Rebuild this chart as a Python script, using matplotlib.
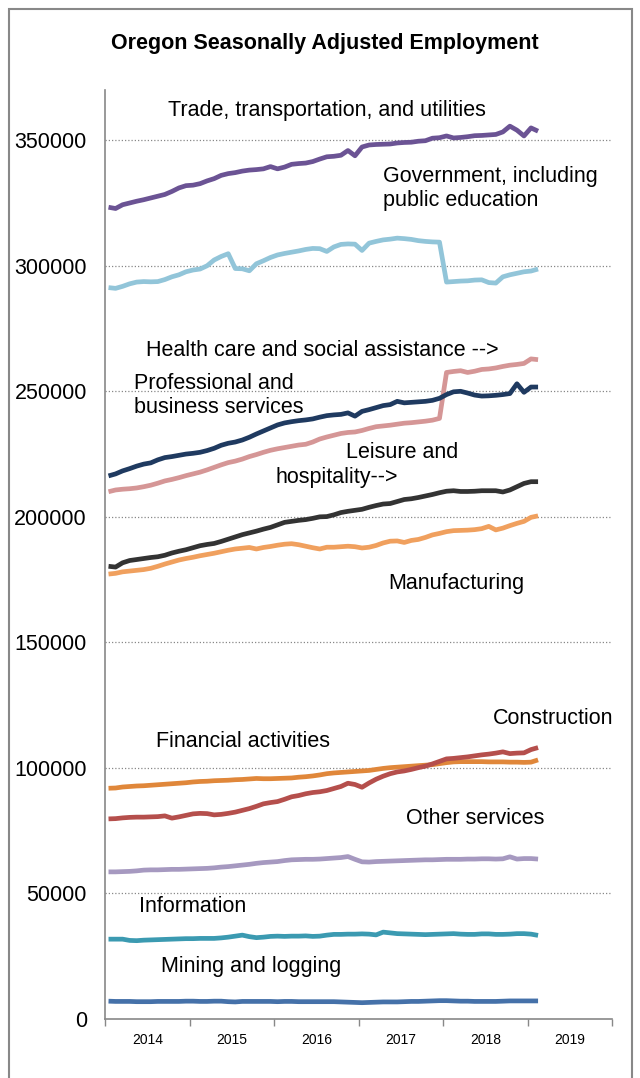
import numpy as np
import matplotlib.pyplot as plt
from matplotlib.patches import Rectangle

plt.rcParams['font.family'] = ['Liberation Sans', 'DejaVu Sans']

# ── Data: monthly, Jan 2014 - Feb 2019 ───────────────────────
months = np.arange(62)

trade = [323300, 322800, 324300, 325000, 325700, 326300, 327000, 327700, 328400, 329600,
         331000, 331900, 332100, 332700, 333800, 334700, 336000, 336700, 337100, 337700,
         338100, 338300, 338600, 339500, 338600, 339300, 340400, 340700, 340900, 341500,
         342500, 343400, 343600, 344000, 345900, 343800, 347300, 348100, 348300, 348400,
         348500, 348900, 349100, 349200, 349600, 349800, 350800, 351000, 351700, 350900,
         351100, 351400, 351800, 351900, 352100, 352300, 353300, 355600, 354000, 351700,
         354900, 353600]

government = [291300, 291000, 291800, 292800, 293500, 293700, 293600, 293700, 294500, 295600,
              296400, 297600, 298300, 298700, 300000, 302300, 303700, 304800, 298900, 298800,
              298000, 300800, 302000, 303300, 304300, 304900, 305400, 305900, 306500, 306900,
              306800, 305700, 307500, 308500, 308700, 308600, 306100, 309000, 309700, 310300,
              310600, 311000, 310800, 310500, 310000, 309700, 309500, 309400, 293500, 293700,
              293900, 294000, 294300, 294400, 293300, 293100, 295600, 296400, 297000, 297600,
              297900, 298700]

health = [210000, 210700, 211000, 211200, 211500, 212000, 212600, 213400, 214300, 214900,
          215600, 216400, 217100, 217800, 218700, 219700, 220700, 221600, 222200, 223000,
          224000, 224800, 225700, 226500, 227100, 227600, 228100, 228600, 228900, 229800,
          231000, 231800, 232500, 233200, 233600, 233800, 234400, 235200, 235900, 236200,
          236500, 236900, 237300, 237500, 237800, 238100, 238500, 239200, 257500, 257900,
          258200, 257500, 258000, 258700, 258900, 259300, 259900, 260400, 260700, 261100,
          262900, 262600]

professional = [216300, 217100, 218300, 219200, 220200, 221000, 221500, 222700, 223600, 224000,
                224500, 225000, 225300, 225700, 226400, 227300, 228500, 229300, 229800, 230600,
                231700, 233000, 234200, 235400, 236600, 237400, 237900, 238300, 238600, 239000,
                239700, 240300, 240600, 240800, 241400, 240100, 242000, 242700, 243500, 244300,
                244700, 246000, 245400, 245600, 245800, 246000, 246400, 247200, 248700, 249800,
                250000, 249300, 248500, 248100, 248200, 248400, 248700, 249100, 253000, 249600,
                251700, 251700]

leisure = [180300, 180000, 181700, 182600, 183000, 183400, 183800, 184100, 184700, 185600,
           186300, 186900, 187700, 188500, 189000, 189400, 190200, 191100, 192000, 192900,
           193600, 194300, 195100, 195800, 196800, 197800, 198200, 198600, 198900, 199400,
           200000, 200100, 200800, 201700, 202200, 202600, 203000, 203800, 204500, 205100,
           205300, 206100, 206900, 207200, 207700, 208300, 208900, 209600, 210200, 210400,
           210100, 210100, 210200, 210400, 210400, 210400, 209900, 210700, 212000, 213300,
           214000, 214000]

manufacturing = [177200, 177500, 178100, 178400, 178700, 179000, 179500, 180300, 181200, 182000,
                 182800, 183400, 183900, 184500, 185000, 185500, 186100, 186700, 187200, 187500,
                 187800, 187200, 187800, 188200, 188700, 189100, 189300, 188900, 188300, 187700,
                 187200, 187900, 187900, 188100, 188300, 188100, 187600, 187900, 188600, 189600,
                 190300, 190400, 189800, 190600, 191000, 191800, 192800, 193400, 194100, 194500,
                 194600, 194700, 194900, 195300, 196200, 194800, 195500, 196500, 197400, 198200,
                 199800, 200400]

financial = [91900, 92000, 92400, 92600, 92800, 92900, 93100, 93300, 93500, 93700,
             93900, 94100, 94400, 94600, 94700, 94900, 95000, 95100, 95300, 95400,
             95600, 95800, 95700, 95700, 95800, 95900, 96000, 96300, 96500, 96800,
             97200, 97700, 98000, 98200, 98400, 98600, 98800, 99000, 99400, 99800,
             100100, 100300, 100500, 100700, 100900, 101100, 101300, 101700, 102100, 102400,
             102500, 102500, 102500, 102500, 102400, 102400, 102400, 102300, 102300, 102200,
             102300, 103200]

construction = [79700, 79800, 80100, 80300, 80400, 80400, 80500, 80600, 80900, 80000,
                80500, 81100, 81700, 81900, 81800, 81300, 81500, 81900, 82400, 83100,
                83800, 84700, 85700, 86200, 86600, 87500, 88500, 89000, 89700, 90200,
                90500, 91000, 91800, 92600, 93900, 93400, 92300, 94000, 95500, 96700,
                97700, 98400, 98800, 99400, 100100, 100700, 101600, 102600, 103600, 103800,
                104100, 104400, 104800, 105200, 105500, 105900, 106400, 105700, 105900, 106000,
                107300, 108100]

other = [58600, 58600, 58700, 58800, 59000, 59300, 59400, 59400, 59500, 59600,
         59600, 59700, 59800, 59900, 60000, 60200, 60500, 60700, 61000, 61300,
         61600, 62000, 62300, 62500, 62700, 63100, 63400, 63500, 63600, 63600,
         63700, 63900, 64100, 64300, 64700, 63600, 62600, 62500, 62700, 62800,
         62900, 63000, 63100, 63200, 63300, 63400, 63400, 63500, 63600, 63600,
         63600, 63700, 63700, 63800, 63800, 63700, 63800, 64600, 63700, 63900,
         63900, 63700]

information = [31800, 31800, 31800, 31300, 31200, 31400, 31500, 31600, 31700, 31800,
               31900, 32000, 32000, 32100, 32100, 32100, 32300, 32600, 33000, 33400,
               32800, 32400, 32600, 32900, 33000, 32900, 33000, 33000, 33100, 32900,
               33000, 33400, 33700, 33700, 33800, 33800, 33900, 33800, 33500, 34600,
               34300, 34000, 33900, 33800, 33700, 33600, 33700, 33800, 33900, 34000,
               33800, 33700, 33700, 33900, 33900, 33700, 33700, 33800, 34000, 34000,
               33800, 33300]

mining = [7100, 7000, 7000, 7000, 6900, 6900, 6900, 7000, 7000, 7000,
          7000, 7100, 7100, 7000, 7000, 7100, 7100, 6900, 6800, 7000,
          7000, 7000, 7000, 7000, 6900, 7000, 7000, 6900, 6900, 6900,
          6900, 6900, 6900, 6800, 6700, 6600, 6500, 6600, 6700, 6800,
          6800, 6800, 6900, 7000, 7000, 7100, 7200, 7300, 7300, 7200,
          7100, 7100, 7000, 7000, 7000, 7000, 7100, 7200, 7200, 7200,
          7200, 7200]

years = [2014, 2015, 2016, 2017, 2018, 2019]

series = [
    (trade, '#6b5394'),
    (government, '#92c5d9'),
    (health, '#d59696'),
    (professional, '#1f3a60'),
    (leisure, '#333333'),
    (manufacturing, '#f0a05e'),
    (financial, '#e0873a'),
    (construction, '#b54f4c'),
    (other, '#a699c0'),
    (information, '#3b9ab1'),
    (mining, '#4571a9'),
]

# labels: (text, x in years, y value)
labels = [
    ('Trade, transportation, and utilities', 2014.746, 361900),
    ('Government, including\npublic education', 2017.29, 330800),
    ('Health care and social assistance -->', 2014.485, 266300),
    ('Professional and\nbusiness services', 2014.343, 248200),
    ('Leisure and', 2016.852, 225700),
    ('hospitality-->', 2016.012, 215800),
    ('Manufacturing', 2017.349, 173600),
    ('Construction', 2018.592, 119800),
    ('Financial activities', 2014.604, 110700),
    ('Other services', 2017.562, 80000),
    ('Information', 2014.402, 45000),
    ('Mining and logging', 2014.663, 21100),
]

# ── Figure ───────────────────────────────────────────────────
fig = plt.figure(figsize=(6.4, 10.78), dpi=100)
ax = fig.add_axes([105/640, 1 - 1019/1078, (612 - 105)/640, (1019 - 90)/1078])

x = 2014 + (months + 0.5) / 12
for vals, col in series:
    ax.plot(x, vals, color=col, lw=3.4, solid_capstyle='butt', solid_joinstyle='round')

for txt, tx, ty in labels:
    ax.text(tx, ty, txt, ha='left', va='center', fontsize=15.5, linespacing=1.18)

ax.set_xlim(2014, 2020)
ax.set_ylim(0, 370000)
ax.set_yticks(np.arange(0, 350001, 50000))
ax.set_yticklabels([str(v) for v in range(0, 350001, 50000)], fontsize=15.5)
ax.tick_params(axis='y', length=0, pad=13)

ax.set_xticks(np.arange(2014, 2021))
ax.set_xticklabels([])
ax.set_xticks([y + 0.5 for y in years], minor=True)
ax.set_xticklabels([str(y) for y in years], minor=True, fontsize=10)
ax.tick_params(axis='x', which='major', direction='out', length=5, color='#888888', width=1)
ax.tick_params(axis='x', which='minor', length=0, pad=10)

for yv in range(50000, 350001, 50000):
    ax.axhline(yv, color='#888888', lw=0.9, ls=(0, (1, 1.6)), zorder=0)

for s in ['top', 'right']:
    ax.spines[s].set_visible(False)
for s in ['left', 'bottom']:
    ax.spines[s].set_color('#888888')
    ax.spines[s].set_linewidth(1.2)

fig.text(325/640, 1 - 43/1078, 'Oregon Seasonally Adjusted Employment',
         ha='center', va='center', fontsize=15.5, fontweight='bold')

fig.add_artist(Rectangle((9/640, -0.01), (632 - 9)/640, (1078 - 9)/1078 + 0.01,
                         transform=fig.transFigure, fill=False,
                         edgecolor='#888888', lw=1.5))

fig.savefig('out.png', dpi=100)
